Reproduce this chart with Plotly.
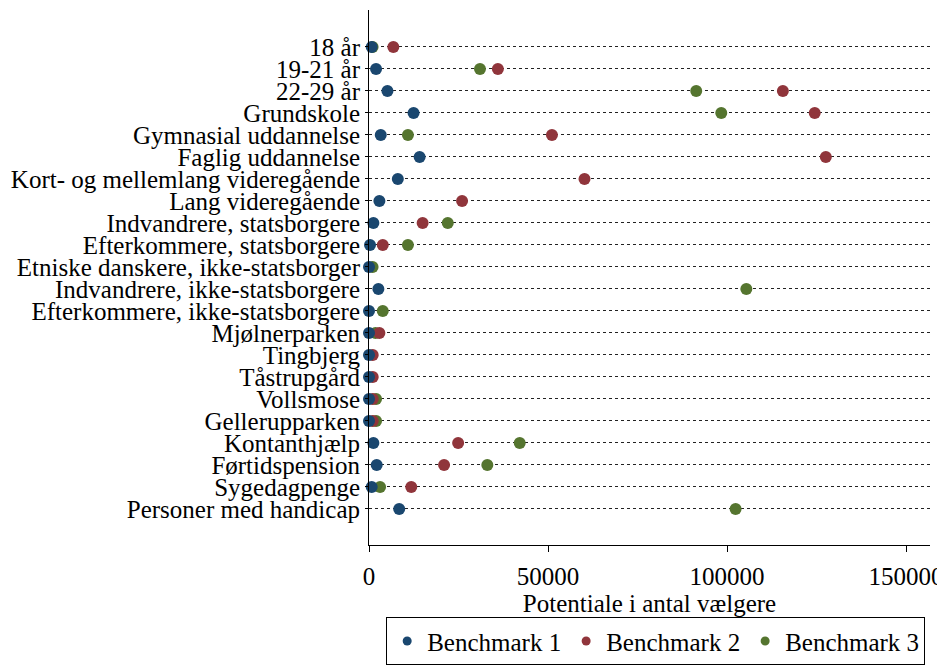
import plotly.graph_objects as go

categories = [
    "18 år", "19-21 år", "22-29 år", "Grundskole", "Gymnasial uddannelse",
    "Faglig uddannelse", "Kort- og mellemlang videregående", "Lang videregående",
    "Indvandrere, statsborgere", "Efterkommere, statsborgere",
    "Etniske danskere, ikke-statsborger", "Indvandrere, ikke-statsborgere",
    "Efterkommere, ikke-statsborgere", "Mjølnerparken", "Tingbjerg",
    "Tåstrupgård", "Vollsmose", "Gellerupparken", "Kontanthjælp",
    "Førtidspension", "Sygedagpenge", "Personer med handicap",
]

benchmark1 = [750, 1970, 5150, 12450, 3280, 14140, 8050, 2900, 1220, 280,
              0, 2620, 0, 0, 0, 0, 0, 0, 1220, 2150, 750, 8430]
benchmark2 = [6800, 36000, 115600, 124500, 51100, 127600, 60200, 26000, 14980, 3840,
              None, None, None, 2900, 1040, 1040, 1040, 1040, 24900, 20970, 11800, None]
benchmark3 = [1000, 31000, 91400, 98400, 10870, None, None, None, 22000, 10870,
              1000, 105400, 3840, 1800, None, None, 1970, 1970, 42100, 33050, 3090, 102400]

series_names = ["Benchmark 1", "Benchmark 2", "Benchmark 3"]
colors = ["#1a476f", "#90353b", "#55752f"]
x_ticks = [0, 50000, 100000, 150000]

font_family = "Liberation Serif, Times New Roman, serif"
ypos = list(range(len(categories)))

fig = go.Figure()
data = [benchmark1, benchmark2, benchmark3]
# draw green, red, then blue so blue ends on top
for idx in [2, 1, 0]:
    fig.add_trace(go.Scatter(
        x=data[idx], y=ypos, mode="markers", name=series_names[idx],
        marker=dict(color=colors[idx], size=12, line=dict(width=0)),
        cliponaxis=False, showlegend=False, hoverinfo="x+y+name",
    ))
# legend entries with smaller symbols
for idx in [0, 1, 2]:
    fig.add_trace(go.Scatter(
        x=[None], y=[None], mode="markers", name=series_names[idx],
        marker=dict(color=colors[idx], size=9, line=dict(width=0)),
        showlegend=True,
    ))

# the page body adds an 8px offset; compensate so the figure sits at the window origin
fig.update_layout(
    width=937, height=660,
    margin=dict(l=361, r=15, t=2, b=123),
    paper_bgcolor="white", plot_bgcolor="white",
    font=dict(family=font_family, size=25, color="black"),
    showlegend=True,
    legend=dict(
        orientation="h", x=0.511, xanchor="center", y=-0.135, yanchor="top",
        bordercolor="black", borderwidth=1, font=dict(size=25),
        itemsizing="trace", traceorder="normal",
    ),
    xaxis=dict(
        range=[0, 156700], tickvals=x_ticks, ticktext=[str(v) for v in x_ticks],
        showgrid=False, zeroline=False, showline=True, linecolor="black", linewidth=1,
        ticks="outside", ticklen=6, tickcolor="black", ticklabelstandoff=3,
        title=dict(text="Potentiale i antal vælgere", font=dict(size=25), standoff=0),
        tickfont=dict(size=25), automargin=False,
    ),
    yaxis=dict(
        range=[len(categories) - 1 + 1.64, -1.68],
        tickvals=ypos, ticktext=categories,
        showgrid=True, gridcolor="#222", gridwidth=1, griddash="dot",
        zeroline=False, showline=True, linecolor="black", linewidth=1,
        ticks="outside", ticklen=3, tickcolor="black",
        tickfont=dict(size=25), automargin=False,
    ),
)

fig.write_html("out.html")
